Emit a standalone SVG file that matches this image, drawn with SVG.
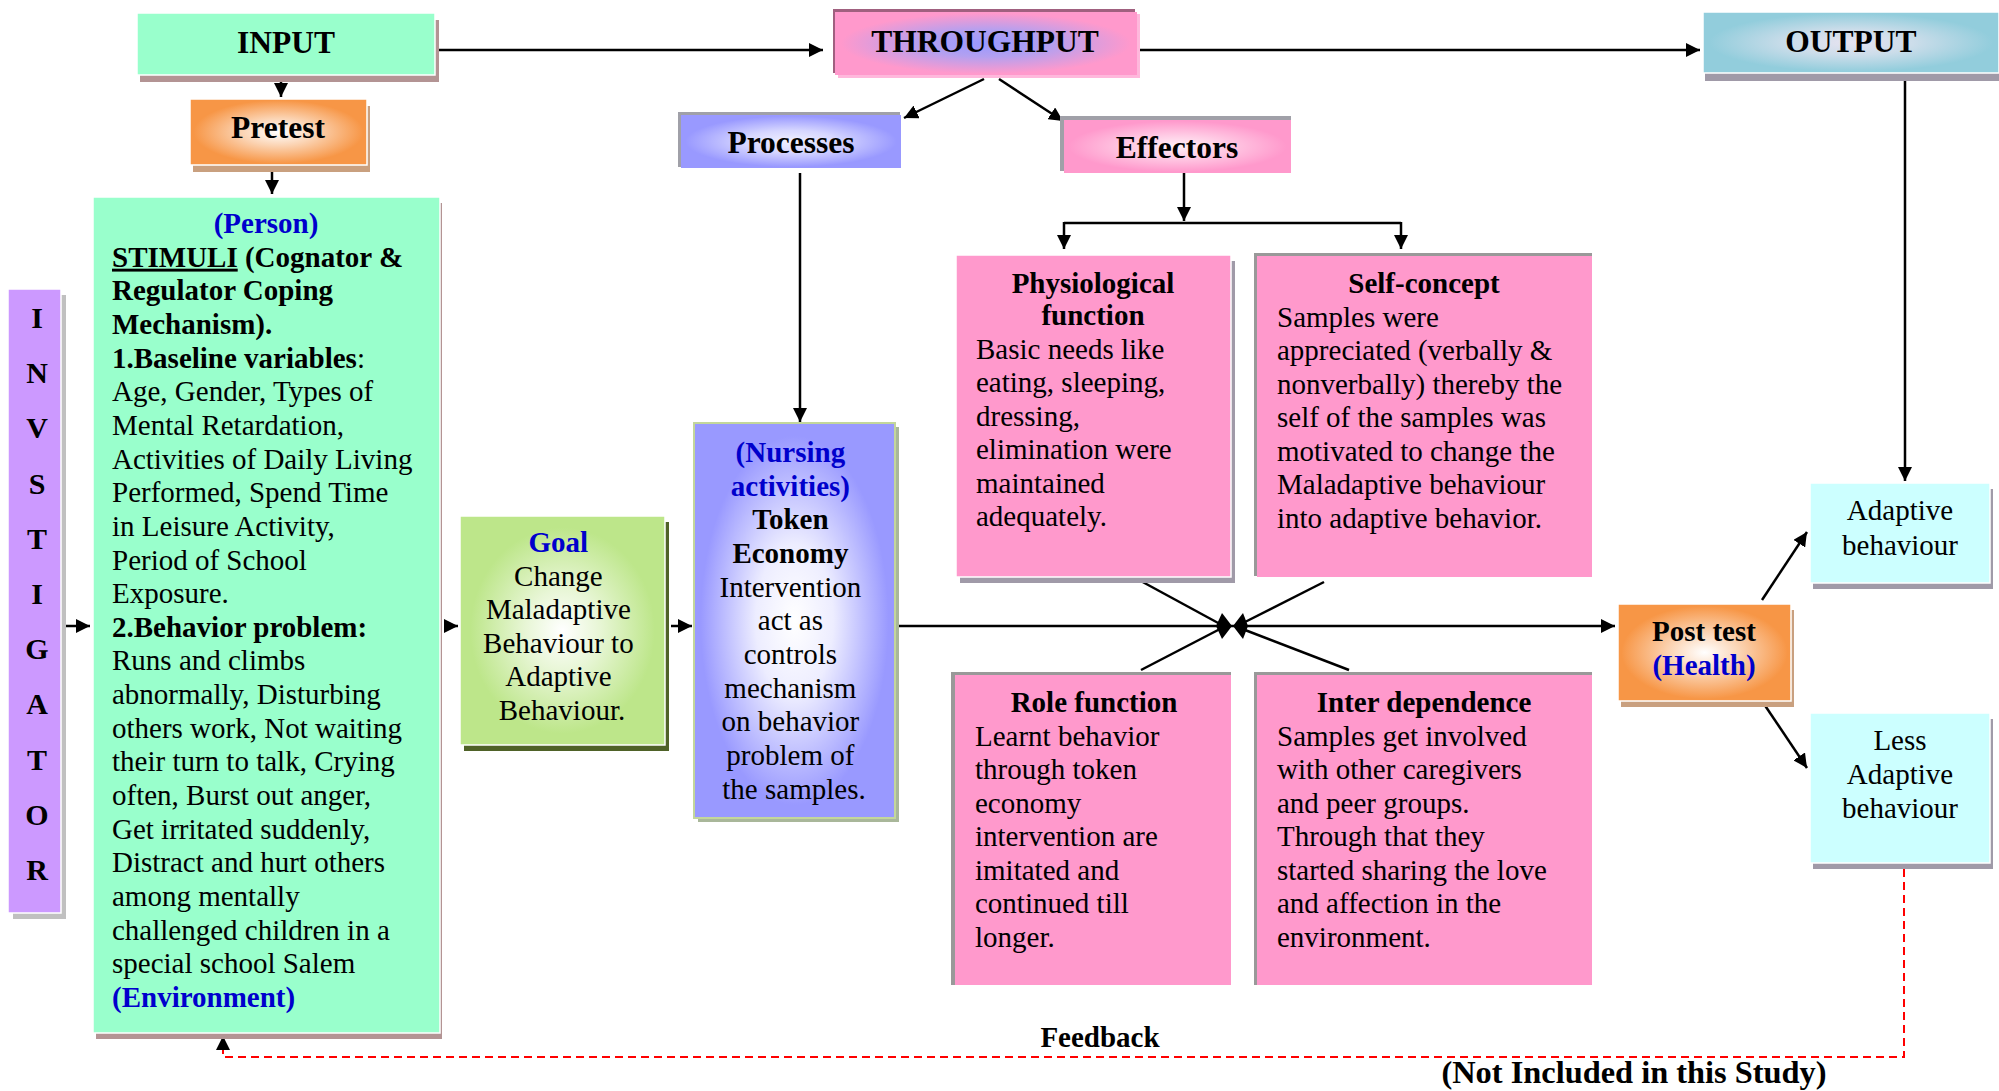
<svg xmlns="http://www.w3.org/2000/svg" width="1999" height="1091" viewBox="0 0 1999 1091">
<style>
.t{font-family:"Liberation Serif","Times New Roman",serif;font-size:29px;fill:#000}
.b{font-weight:bold}
.h{font-size:31.5px;font-weight:bold}
.blue{fill:#0000CC}
.c{text-anchor:middle}
.ln{stroke:#000;stroke-width:2.5;fill:none}
.ar{marker-end:url(#ah)}
.fb{stroke:#FF0000;stroke-width:2;stroke-dasharray:8 5;fill:none}
.wb{stroke:#fff;stroke-width:1.5}
</style>
<defs>
<marker id="ah" markerUnits="userSpaceOnUse" markerWidth="15" markerHeight="14" refX="14" refY="7" orient="auto" viewBox="0 0 15 14">
<path d="M0,0 L14,7 L0,14 z" fill="#000"/>
</marker>
<radialGradient id="gOrange" cx="0.5" cy="0.5" r="0.6">
<stop offset="0" stop-color="#FFFFFF"/><stop offset="0.35" stop-color="#FBD3B2"/><stop offset="0.8" stop-color="#F79646"/><stop offset="1" stop-color="#F79646"/>
</radialGradient>
<radialGradient id="gThrough" cx="0.5" cy="0.5" r="0.6">
<stop offset="0" stop-color="#9999FF"/><stop offset="0.35" stop-color="#B3A0F0"/><stop offset="0.8" stop-color="#FF99CC"/><stop offset="1" stop-color="#FF99CC"/>
</radialGradient>
<radialGradient id="gProc" cx="0.5" cy="0.5" r="0.6">
<stop offset="0" stop-color="#F0F0FF"/><stop offset="0.35" stop-color="#D6D6FF"/><stop offset="0.8" stop-color="#9999FF"/><stop offset="1" stop-color="#9999FF"/>
</radialGradient>
<radialGradient id="gEff" cx="0.5" cy="0.5" r="0.6">
<stop offset="0" stop-color="#FFF0F7"/><stop offset="0.35" stop-color="#FFCCE5"/><stop offset="0.8" stop-color="#FF99CC"/><stop offset="1" stop-color="#FF99CC"/>
</radialGradient>
<radialGradient id="gOut" cx="0.5" cy="0.5" r="0.6">
<stop offset="0" stop-color="#E6E3F0"/><stop offset="0.35" stop-color="#CCDDEA"/><stop offset="0.8" stop-color="#92CDDC"/><stop offset="1" stop-color="#92CDDC"/>
</radialGradient>
<radialGradient id="gGoal" cx="0.5" cy="0.5" r="0.6">
<stop offset="0" stop-color="#FFFFFF"/><stop offset="0.3" stop-color="#E8F6D6"/><stop offset="0.75" stop-color="#BDE68A"/><stop offset="1" stop-color="#BDE68A"/>
</radialGradient>
<radialGradient id="gNurse" cx="0.5" cy="0.5" r="0.55">
<stop offset="0" stop-color="#FFFFFF"/><stop offset="0.35" stop-color="#EDEDFF"/><stop offset="0.85" stop-color="#9999FF"/><stop offset="1" stop-color="#9999FF"/>
</radialGradient>
</defs>
<rect width="1999" height="1091" fill="#fff"/>

<g id="connectors">
<path class="ln ar" d="M439,50 H823"/>
<path class="ln ar" d="M281,78 V97"/>
<path class="ln ar" d="M272,170 V194"/>
<path class="ln ar" d="M1140,50 H1700"/>
<path class="ln ar" d="M984,79 L904,118"/>
<path class="ln ar" d="M999,79 L1063,121"/>
<path class="ln ar" d="M800,173 V422"/>
<path class="ln ar" d="M1184,173 V221"/>
<path class="ln" d="M1064,223 H1401"/>
<path class="ln ar" d="M1064,222 V249"/>
<path class="ln ar" d="M1401,222 V249"/>
<path class="ln ar" d="M1905,80 V481"/>
<path class="ln ar" d="M66,626 H90"/>
<path class="ln ar" d="M444,626 H458"/>
<path class="ln ar" d="M671,626 H692"/>
<path class="ln ar" d="M896,626 H1615"/>
<path class="ln ar" d="M1762,600 L1807,532"/>
<path class="ln ar" d="M1764,704 L1807,768"/>
<path class="ln" d="M1139,580 L1220,624"/>
<path class="ln" d="M1141,670 L1220,629"/>
<path class="ln" d="M1324,582 L1245,622"/>
<path class="ln" d="M1349,670 L1245,630"/>
<polygon points="1216,626 1222,613 1232,626 1222,639" fill="#000"/>
<polygon points="1233,626 1243,613 1248,626 1243,639" fill="#000"/>
<path class="fb" d="M1904,869 V1057 H223 V1048"/>
<path class="ln" d="M223,1048 V1036" stroke="#FF0000" stroke-width="2" marker-end="url(#ah)"/>
</g>

<g id="input">
<rect x="140" y="20" width="299" height="62" fill="#B39494"/>
<rect x="137" y="13" width="298" height="62" fill="#99FFCC" class="wb"/>
<text class="t h c" x="286" y="53">INPUT</text>
</g>

<g id="throughput">
<rect x="833" y="9" width="302" height="64" fill="#A0607F"/>
<rect x="838" y="14" width="302" height="64" fill="#FFB8DC"/>
<rect x="835" y="12" width="302" height="63" fill="url(#gThrough)"/>
<text class="t h c" x="985" y="52">THROUGHPUT</text>
</g>

<g id="output">
<rect x="1705" y="19" width="294" height="62" fill="#A09AA8"/>
<rect x="1703" y="12" width="296" height="61" fill="url(#gOut)" class="wb"/>
<text class="t h c" x="1851" y="52">OUTPUT</text>
</g>

<g id="pretest">
<rect x="193" y="106" width="177" height="66" fill="#C9A07F"/>
<rect x="190" y="99" width="177" height="66" fill="url(#gOrange)" class="wb"/>
<text class="t b c" x="278" y="138" style="font-size:31.5px">Pretest</text>
</g>

<g id="processes">
<rect x="678" y="112" width="222" height="55" fill="#A0A0A8"/>
<rect x="681" y="115" width="220" height="53" fill="url(#gProc)"/>
<text class="t h c" x="791" y="153">Processes</text>
</g>

<g id="effectors">
<rect x="1060" y="116" width="231" height="55" fill="#A0A0A8"/>
<rect x="1064" y="120" width="227" height="53" fill="url(#gEff)"/>
<text class="t h c" x="1177" y="158">Effectors</text>
</g>

<g id="investigator">
<rect x="13" y="295" width="53" height="624" fill="#C0C0C0"/>
<rect x="8" y="289" width="53" height="624" fill="#CC99FF" class="wb"/>
<text class="t b c" style="font-size:30px">
<tspan x="37" y="328">I</tspan><tspan x="37" y="383.2">N</tspan><tspan x="37" y="438.4">V</tspan><tspan x="37" y="493.6">S</tspan><tspan x="37" y="548.8">T</tspan><tspan x="37" y="604">I</tspan><tspan x="37" y="659.2">G</tspan><tspan x="37" y="714.4">A</tspan><tspan x="37" y="769.6">T</tspan><tspan x="37" y="824.8">O</tspan><tspan x="37" y="880">R</tspan>
</text>
</g>

<g id="stimuli">
<rect x="96" y="203" width="346" height="836" fill="#B39494"/>
<rect x="93" y="197" width="347" height="836" fill="#99FFCC" class="wb"/>
<text class="t b c blue" x="266" y="233">(Person)</text>
<text class="t">
<tspan x="112" y="266.7" font-weight="bold"><tspan text-decoration="underline">STIMULI</tspan> (Cognator &amp;</tspan>
<tspan x="112" y="300.3" font-weight="bold">Regulator Coping</tspan>
<tspan x="112" y="334" font-weight="bold">Mechanism).</tspan>
<tspan x="112" y="367.6"><tspan font-weight="bold">1.Baseline variables</tspan>:</tspan>
<tspan x="112" y="401.3">Age, Gender, Types of</tspan>
<tspan x="112" y="434.9">Mental Retardation,</tspan>
<tspan x="112" y="468.6">Activities of Daily Living</tspan>
<tspan x="112" y="502.2">Performed, Spend Time</tspan>
<tspan x="112" y="535.9">in Leisure Activity,</tspan>
<tspan x="112" y="569.5">Period of School</tspan>
<tspan x="112" y="603.2">Exposure.</tspan>
<tspan x="112" y="636.8" font-weight="bold">2.Behavior problem:</tspan>
<tspan x="112" y="670.4">Runs and climbs</tspan>
<tspan x="112" y="704.1">abnormally, Disturbing</tspan>
<tspan x="112" y="737.7">others work, Not waiting</tspan>
<tspan x="112" y="771.4">their turn to talk, Crying</tspan>
<tspan x="112" y="805">often, Burst out anger,</tspan>
<tspan x="112" y="838.7">Get irritated suddenly,</tspan>
<tspan x="112" y="872.3">Distract and hurt others</tspan>
<tspan x="112" y="906">among mentally</tspan>
<tspan x="112" y="939.6">challenged children in a</tspan>
<tspan x="112" y="973.3">special school Salem</tspan>
<tspan x="112" y="1007" font-weight="bold" fill="#0000CC">(Environment)</tspan>
</text>
</g>

<g id="goal">
<rect x="464" y="522" width="205" height="229" fill="#4F6228"/>
<rect x="460" y="516" width="205" height="229" fill="url(#gGoal)" class="wb"/>
<text class="t c">
<tspan x="562" y="552" font-weight="bold" fill="#0000CC">Goal</tspan>
<tspan x="562" y="585.5">Change</tspan>
<tspan x="562" y="619">Maladaptive</tspan>
<tspan x="562" y="652.5">Behaviour to</tspan>
<tspan x="562" y="686">Adaptive</tspan>
<tspan x="562" y="719.5">Behaviour.</tspan>
</text>
</g>

<g id="nursing">
<rect x="698" y="427" width="201" height="395" fill="#A9B79A"/>
<rect x="694" y="423" width="201" height="395" fill="url(#gNurse)" stroke="#C3D69B" stroke-width="2"/>
<text class="t c">
<tspan x="794" y="462" font-weight="bold" fill="#0000CC">(Nursing</tspan>
<tspan x="794" y="495.6" font-weight="bold" fill="#0000CC">activities)</tspan>
<tspan x="794" y="529.3" font-weight="bold">Token</tspan>
<tspan x="794" y="562.9" font-weight="bold">Economy</tspan>
<tspan x="794" y="596.6">Intervention</tspan>
<tspan x="794" y="630.2">act as</tspan>
<tspan x="794" y="663.9">controls</tspan>
<tspan x="794" y="697.5">mechanism</tspan>
<tspan x="794" y="731.2">on behavior</tspan>
<tspan x="794" y="764.8">problem of</tspan>
<tspan x="794" y="798.5">the samples.</tspan>
</text>
</g>

<g id="physiological">
<rect x="960" y="261" width="275" height="322" fill="#A09AA8"/>
<rect x="956" y="255" width="275" height="322" fill="#FF99CC" class="wb"/>
<text class="t b c"><tspan x="1093" y="293">Physiological</tspan><tspan x="1093" y="325">function</tspan></text>
<text class="t">
<tspan x="976" y="358.5">Basic needs like</tspan>
<tspan x="976" y="392">eating, sleeping,</tspan>
<tspan x="976" y="425.5">dressing,</tspan>
<tspan x="976" y="459">elimination were</tspan>
<tspan x="976" y="492.5">maintained</tspan>
<tspan x="976" y="526">adequately.</tspan>
</text>
</g>

<g id="selfconcept">
<rect x="1254" y="253" width="338" height="323" fill="#999"/>
<rect x="1257" y="256" width="335" height="321" fill="#FF99CC"/>
<text class="t b c" x="1424" y="293">Self-concept</text>
<text class="t">
<tspan x="1277" y="326.5">Samples were</tspan>
<tspan x="1277" y="360">appreciated (verbally &amp;</tspan>
<tspan x="1277" y="393.5">nonverbally) thereby the</tspan>
<tspan x="1277" y="427">self of the samples was</tspan>
<tspan x="1277" y="460.5">motivated to change the</tspan>
<tspan x="1277" y="494">Maladaptive behaviour</tspan>
<tspan x="1277" y="527.5">into adaptive behavior.</tspan>
</text>
</g>

<g id="role">
<rect x="951" y="672" width="280" height="313" fill="#999"/>
<rect x="955" y="675" width="276" height="310" fill="#FF99CC"/>
<text class="t b c" x="1094" y="712">Role function</text>
<text class="t">
<tspan x="975" y="745.5">Learnt behavior</tspan>
<tspan x="975" y="779">through token</tspan>
<tspan x="975" y="812.5">economy</tspan>
<tspan x="975" y="846">intervention are</tspan>
<tspan x="975" y="879.5">imitated and</tspan>
<tspan x="975" y="913">continued till</tspan>
<tspan x="975" y="946.5">longer.</tspan>
</text>
</g>

<g id="interdependence">
<rect x="1254" y="672" width="338" height="313" fill="#999"/>
<rect x="1257" y="675" width="335" height="310" fill="#FF99CC"/>
<text class="t b c" x="1424" y="712">Inter dependence</text>
<text class="t">
<tspan x="1277" y="745.5">Samples get involved</tspan>
<tspan x="1277" y="779">with other caregivers</tspan>
<tspan x="1277" y="812.5">and peer groups.</tspan>
<tspan x="1277" y="846">Through that they</tspan>
<tspan x="1277" y="879.5">started sharing the love</tspan>
<tspan x="1277" y="913">and affection in the</tspan>
<tspan x="1277" y="946.5">environment.</tspan>
</text>
</g>

<g id="posttest">
<rect x="1621" y="610" width="173" height="97" fill="#C9A07F"/>
<rect x="1618" y="604" width="173" height="97" fill="url(#gOrange)" class="wb"/>
<text class="t b c"><tspan x="1704" y="641">Post test</tspan><tspan x="1704" y="675" fill="#0000CC">(Health)</tspan></text>
</g>

<g id="adaptive">
<rect x="1813" y="489" width="180" height="100" fill="#A09AA8"/>
<rect x="1810" y="483" width="180" height="100" fill="#CCFFFF" class="wb"/>
<text class="t c"><tspan x="1900" y="520">Adaptive</tspan><tspan x="1900" y="555">behaviour</tspan></text>
</g>

<g id="lessadaptive">
<rect x="1813" y="719" width="180" height="150" fill="#A09AA8"/>
<rect x="1810" y="713" width="180" height="150" fill="#CCFFFF" class="wb"/>
<text class="t c"><tspan x="1900" y="750">Less</tspan><tspan x="1900" y="784">Adaptive</tspan><tspan x="1900" y="818">behaviour</tspan></text>
</g>

<g id="labels">
<text class="t b c" x="1100" y="1047">Feedback</text>
<text class="t b c" x="1634" y="1083" style="font-size:32.4px">(Not Included in this Study)</text>
</g>
</svg>
